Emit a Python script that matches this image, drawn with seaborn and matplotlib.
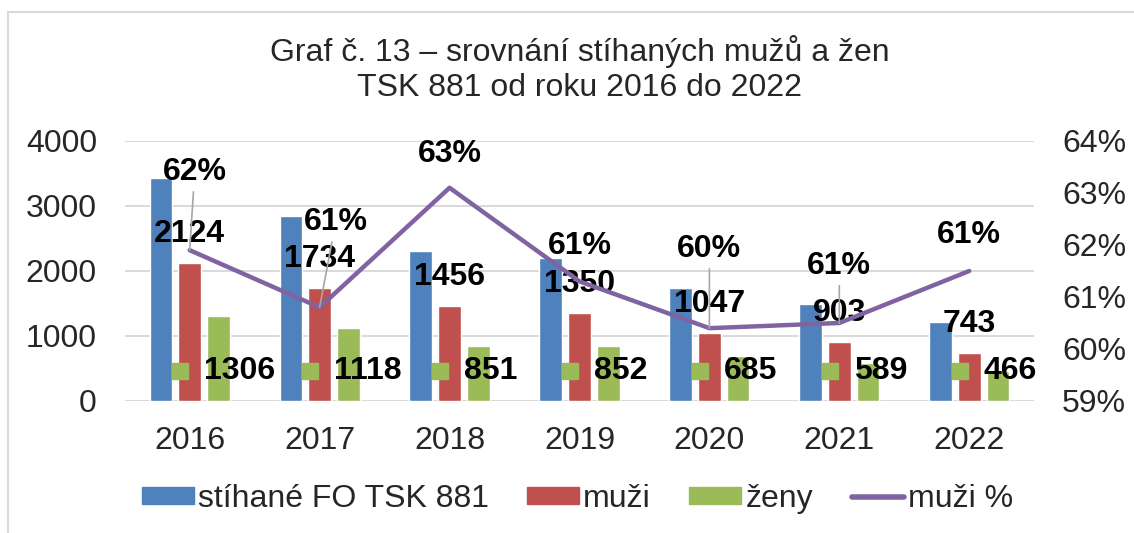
import numpy as np
import pandas as pd
import matplotlib
matplotlib.use("Agg")
import matplotlib.pyplot as plt
import matplotlib.transforms as mtransforms
from matplotlib.patches import Rectangle
from matplotlib.ticker import PercentFormatter
import seaborn as sns

# data
years = ["2016", "2017", "2018", "2019", "2020", "2021", "2022"]
stihane = [3430, 2852, 2307, 2202, 1732, 1492, 1209]
muzi = [2124, 1734, 1456, 1350, 1047, 903, 743]
zeny = [1306, 1118, 851, 852, 685, 589, 466]
muzi_pct = [0.619, 0.608, 0.631, 0.613, 0.604, 0.605, 0.615]
pct_labels = ["62%", "61%", "63%", "61%", "60%", "61%", "61%"]

series_names = ["stíhané FO TSK 881", "muži", "ženy"]
line_name = "muži %"
colors = ["#4F81BD", "#C0504D", "#9BBB59"]
line_color = "#8064A2"

# offsets of the % labels (pixels) and whether a leader line is drawn
pct_offsets = [(5, 78, True), (16, 85, True), (0, 34, False), (0, 35, False),
               (0, 79, True), (0, 57, True), (0, 36, False)]

sns.set_theme(style="white")
plt.rcParams["font.family"] = ["Liberation Sans", "DejaVu Sans"]

df = pd.DataFrame({
    "rok": years * 3,
    "hodnota": stihane + muzi + zeny,
    "serie": [s for s in series_names for _ in years],
})

fig = plt.figure(figsize=(11.34, 5.33), dpi=100)
ax = fig.add_axes([0.110, 0.2477, 0.802, 0.4878])
px = 72 / fig.dpi  # pixels -> points
fs = 23

sns.barplot(data=df, x="rok", y="hodnota", hue="serie", hue_order=series_names,
            palette=colors, width=0.663, gap=0.21, saturation=1, ax=ax, legend=False)

ax.set_ylim(0, 4000)
ax.set_yticks([0, 1000, 2000, 3000, 4000])
ax.set_xlim(-0.5, len(years) - 0.5)
ax.set_xlabel("")
ax.set_ylabel("")
ax.grid(axis="y", color="#D9D9D9", lw=1.4)
ax.set_axisbelow(True)
for s in ax.spines.values():
    s.set_visible(False)
ax.tick_params(axis="both", length=0, labelsize=fs)
ax.tick_params(axis="y", pad=20)
ax.tick_params(axis="x", pad=18)

ax2 = ax.twinx()
sns.lineplot(x=np.arange(len(years)), y=muzi_pct, color=line_color, lw=3.2,
             ax=ax2, legend=False)
ax2.set_ylim(0.59, 0.64)
ax2.set_yticks([0.59, 0.60, 0.61, 0.62, 0.63, 0.64])
ax2.yaxis.set_major_formatter(PercentFormatter(1.0, decimals=0))
ax2.grid(False)
for s in ax2.spines.values():
    s.set_visible(False)
ax2.tick_params(axis="y", length=0, labelsize=fs, pad=20)
ax2.set_xlim(ax.get_xlim())

# labels for muži, above the red bars
for bar, v in zip(ax.containers[1], muzi):
    ax.annotate(str(v), xy=(bar.get_x() + bar.get_width() / 2, v),
                xytext=(0, 29 * px), textcoords="offset points", ha="center", va="center",
                fontsize=fs, fontweight="bold", color="black", zorder=5)

# labels for ženy with legend key, near the base
for bar, v in zip(ax.containers[2], zeny):
    xc = bar.get_x() + bar.get_width() / 2
    ax.annotate(str(v), xy=(xc, 0), xytext=(-14 * px, 30 * px), textcoords="offset points",
                ha="left", va="center", fontsize=fs, fontweight="bold", color="black", zorder=5)
    key_tr = ax.transData + mtransforms.ScaledTranslation(-38 / fig.dpi, 30 / fig.dpi, fig.dpi_scale_trans)
    ax.plot([xc], [0], marker="s", ms=16 * px, color=colors[2], transform=key_tr,
            zorder=5, clip_on=False)

# labels for muži %
for i, (v, lab, (dx, dy, lead)) in enumerate(zip(muzi_pct, pct_labels, pct_offsets)):
    arrow = dict(arrowstyle="-", color="#A6A6A6", lw=1.2, shrinkA=1, shrinkB=0) if lead else None
    ax2.annotate(lab, xy=(i, v), xytext=(dx * px, dy * px), textcoords="offset points",
                 ha="center", va="center", fontsize=fs, fontweight="bold", color="black",
                 arrowprops=arrow, zorder=6)

# title
fig.text(0.511, 0.8705, "Graf č. 13 – srovnání stíhaných mužů a žen\nTSK 881 od roku 2016 do 2022",
         ha="center", va="center", fontsize=fs, linespacing=1.2)

# legend
handles = [Rectangle((0, 0), 1, 1, color=c) for c in colors]
handles.append(plt.Line2D([], [], color=line_color, lw=4, solid_capstyle="round"))
fig.legend(handles, series_names + [line_name], loc="center", bbox_to_anchor=(0.509, 0.064),
           ncol=4, frameon=False, fontsize=fs, handlelength=1.63, handleheight=0.42,
           handletextpad=0.13, columnspacing=1.2)

# chart border
fig.patches.append(Rectangle((8 / 1134, -0.1), 1.2, 1.1 - 12 / 533, transform=fig.transFigure,
                             fill=False, edgecolor="#D9D9D9", lw=1.5))

fig.savefig("out.png", dpi=100)
